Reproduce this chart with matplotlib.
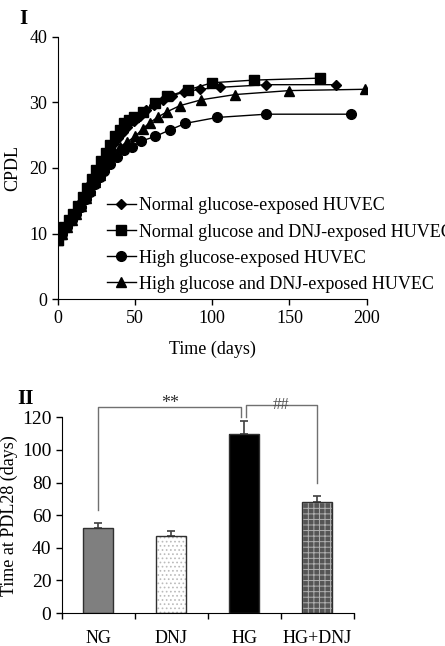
import numpy as np
import matplotlib
matplotlib.use("Agg")
import matplotlib.pyplot as plt

plt.rcParams['font.family'] = ['Liberation Serif', 'DejaVu Serif']
plt.rcParams['font.size'] = 13
plt.rcParams['hatch.linewidth'] = 0.7

# panel I: cumulative population doublings
ng_t = [0, 3, 6, 9, 12, 15, 18, 21, 24, 27, 30, 33, 36, 39, 42, 45, 49, 53, 57, 62, 68, 74, 82, 92, 105, 135, 180]
ng_y = [9.2, 10.3, 11.3, 12.4, 13.5, 14.8, 16.1, 17.5, 18.8, 20.1, 21.3, 22.5, 23.6, 24.6, 25.5, 26.3, 27.2,
        28.0, 28.8, 29.6, 30.4, 31.0, 31.6, 32.0, 32.3, 32.7, 32.7]
ngdnj_t = [0, 2, 4, 7, 10, 13, 16, 19, 22, 25, 28, 31, 34, 37, 40, 43, 46, 49, 55, 63, 71, 84, 100, 127, 170]
ngdnj_y = [9.0, 10.0, 11.0, 12.0, 13.0, 14.2, 15.5, 17.0, 18.3, 19.7, 21.0, 22.3, 23.5, 24.8, 25.8, 26.8,
           27.3, 27.8, 28.6, 29.9, 30.9, 31.9, 33.0, 33.4, 33.7]
hg_t = [0, 3, 6, 9, 12, 15, 18, 21, 24, 27, 30, 34, 38, 43, 48, 54, 63, 72.5, 82.6, 103, 135, 190]
hg_y = [9.0, 10.0, 11.0, 12.0, 13.0, 14.0, 15.2, 16.4, 17.5, 18.6, 19.6, 20.6, 21.6, 22.7, 23.2, 24.1,
        24.8, 25.8, 26.8, 27.7, 28.2, 28.2]
hgdnj_t = [0, 3, 6, 9, 12, 15, 18, 21, 24, 27, 30, 33, 36, 40, 45, 50, 55, 59.5, 65, 71, 79, 93, 115, 150, 199]
hgdnj_y = [9.0, 10.0, 11.0, 12.0, 13.0, 14.2, 15.4, 16.6, 17.8, 19.0, 20.1, 21.2, 22.2, 23.2, 24.0, 24.8,
           26.0, 26.9, 27.8, 28.6, 29.5, 30.4, 31.2, 31.8, 32.0]
labels = ["Normal glucose-exposed HUVEC", "Normal glucose and DNJ-exposed HUVEC",
          "High glucose-exposed HUVEC", "High glucose and DNJ-exposed HUVEC"]

# panel II: time at PDL28
groups = ["NG", "DNJ", "HG", "HG+DNJ"]
days = [52, 47, 110, 68]
sem = [3, 3.5, 8, 3.5]

fig = plt.figure(figsize=(4.45, 6.46), dpi=100)

ax1 = fig.add_axes([0.130, 0.537, 0.694, 0.406])
ax1.plot(ng_t, ng_y, '-D', color='black', lw=1, ms=5.5, label=labels[0])
ax1.plot(ngdnj_t, ngdnj_y, '-s', color='black', lw=1, ms=7, label=labels[1])
ax1.plot(hg_t, hg_y, '-o', color='black', lw=1, ms=7, label=labels[2])
ax1.plot(hgdnj_t, hgdnj_y, '-^', color='black', lw=1, ms=7.5, label=labels[3])
ax1.set_xlim(0, 200)
ax1.set_ylim(0, 40)
ax1.set_xticks([0, 50, 100, 150, 200])
ax1.set_yticks([0, 10, 20, 30, 40])
ax1.spines['top'].set_visible(False)
ax1.spines['right'].set_visible(False)
ax1.tick_params(direction='out', length=4, width=1)
ax1.set_xlabel("Time (days)", labelpad=10)
ax1.set_ylabel("CPDL", labelpad=6)
ax1.legend(loc='upper left', bbox_to_anchor=(0.135, 0.415), frameon=False,
           handlelength=1.6, handletextpad=0.2, labelspacing=0.5, borderaxespad=0)
fig.text(0.052, 0.97, "I", fontsize=15, fontweight='bold', ha='center', va='center')

ax2 = fig.add_axes([0.139, 0.051, 0.656, 0.303])
x = np.arange(len(groups))
faces = ['#7f7f7f', 'white', 'black', '#555555']
hatches = [None, '....', None, '+++']
hcols = ['#404040', '#bbbbbb', 'black', '#b0b0b0']
for i in range(len(groups)):
    ax2.bar(x[i], days[i], width=0.41, color=faces[i], edgecolor=hcols[i], hatch=hatches[i], lw=0, zorder=2)
    ax2.bar(x[i], days[i], width=0.41, fill=False, edgecolor='#303030', lw=1, zorder=3)
ax2.errorbar(x, days, yerr=[np.zeros(len(sem)), sem], fmt='none', ecolor='#404040',
             elinewidth=1.2, capsize=3, capthick=1.2, zorder=1)
ax2.set_xlim(-0.5, 3.5)
ax2.set_ylim(0, 120)
ax2.set_yticks(np.arange(0, 121, 20))
ax2.tick_params(axis='y', labelsize=14)
ax2.set_xticks(np.arange(-0.5, 3.6, 1))
ax2.set_xticklabels([])
ax2.set_xticks(x, minor=True)
ax2.set_xticklabels(groups, minor=True)
ax2.tick_params(axis='x', which='minor', length=0, pad=12)
ax2.tick_params(direction='out', length=4, width=1)
ax2.spines['top'].set_visible(False)
ax2.spines['right'].set_visible(False)
ax2.set_ylabel("Time at PDL28 (days)", labelpad=3)

gc = '#707070'
ax2.plot([0, 0, 1.96, 1.96], [63, 126.5, 126.5, 120], color=gc, lw=1, clip_on=False)
ax2.plot([2.03, 2.03, 2.99, 2.99], [120, 127.3, 127.3, 79.5], color=gc, lw=1, clip_on=False)
ax2.text(0.98, 128.5, "**", ha='center', va='center', fontsize=13, color='#303030')
ax2.text(2.5, 127.8, "##", ha='center', va='center', fontsize=12, color='#505050')
fig.text(0.058, 0.382, "II", fontsize=15, fontweight='bold', ha='center', va='center')

fig.savefig("out.png", dpi=100)
